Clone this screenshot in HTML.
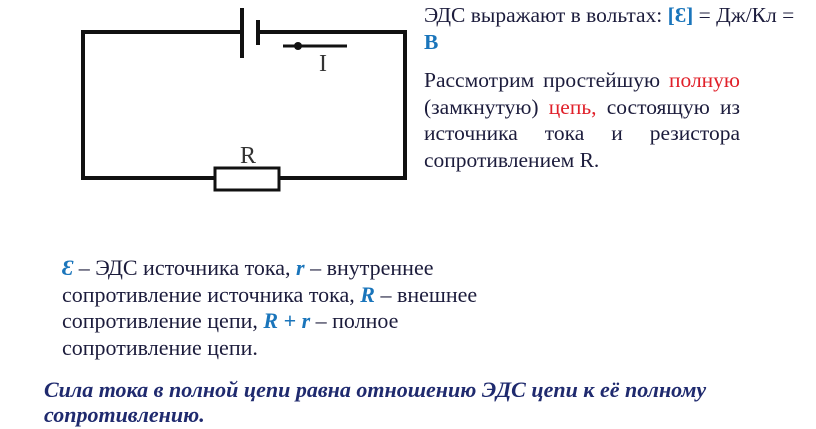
<!DOCTYPE html>
<html><head><meta charset="utf-8"><style>
body{margin:0;width:816px;height:429px;background:#fff;position:relative;overflow:hidden;font-family:"Liberation Serif","Noto Serif CJK SC",serif;color:#1c1c3c}
.t{position:absolute;font-size:21.5px;line-height:26.5px;white-space:nowrap}
.b{color:#1a75bb;font-weight:bold}
.bi{color:#1a75bb;font-weight:bold;font-style:italic}
.red{color:#e0202a}
</style></head><body>
<svg width="816" height="429" style="position:absolute;left:0;top:0">
<g stroke="#111" stroke-width="4" fill="none">
<polyline points="242,32 83,32 83,178 215,178"/>
<polyline points="258,32 405,32 405,178 279,178"/>
<line x1="242" y1="8" x2="242" y2="58"/>
<line x1="258" y1="20" x2="258" y2="45"/>
<rect x="215" y="168" width="64" height="22" stroke-width="3"/>
<line x1="283" y1="46" x2="347" y2="46" stroke-width="3"/>
</g>
<circle cx="298" cy="46" r="4" fill="#111"/>
<text x="323" y="71" font-family="Liberation Serif" font-size="24" fill="#333" text-anchor="middle">I</text>
<text x="248" y="163" font-family="Liberation Serif" font-size="24" fill="#333" text-anchor="middle">R</text>
</svg>
<div class="t" style="left:424px;top:2px;width:390px">ЭДС выражают в вольтах: <span class="b">[Ɛ]</span> = Дж/Кл =<br><span class="b">В</span></div>
<div class="t" style="left:424px;top:67px;width:316px;white-space:normal;text-align:justify;text-align-last:left">Рассмотрим простейшую <span class="red">полную</span> (замкнутую) <span class="red">цепь,</span> состоящую из источника тока и резистора сопротивлением R.</div>
<div class="t" style="left:62px;top:255px;font-size:22px">
<span class="bi">Ɛ</span> – ЭДС источника тока, <span class="bi">r</span> – внутреннее<br>сопротивление источника тока, <span class="bi">R</span> – внешнее<br>сопротивление цепи, <span class="bi">R + r</span> – полное<br>сопротивление цепи.</div>
<div class="t" style="left:44px;top:377px;font-size:22px;line-height:25px;font-weight:bold;font-style:italic;color:#1f2a6e">Сила тока в полной цепи равна отношению ЭДС цепи к её полному<br>сопротивлению.</div>
</body></html>
